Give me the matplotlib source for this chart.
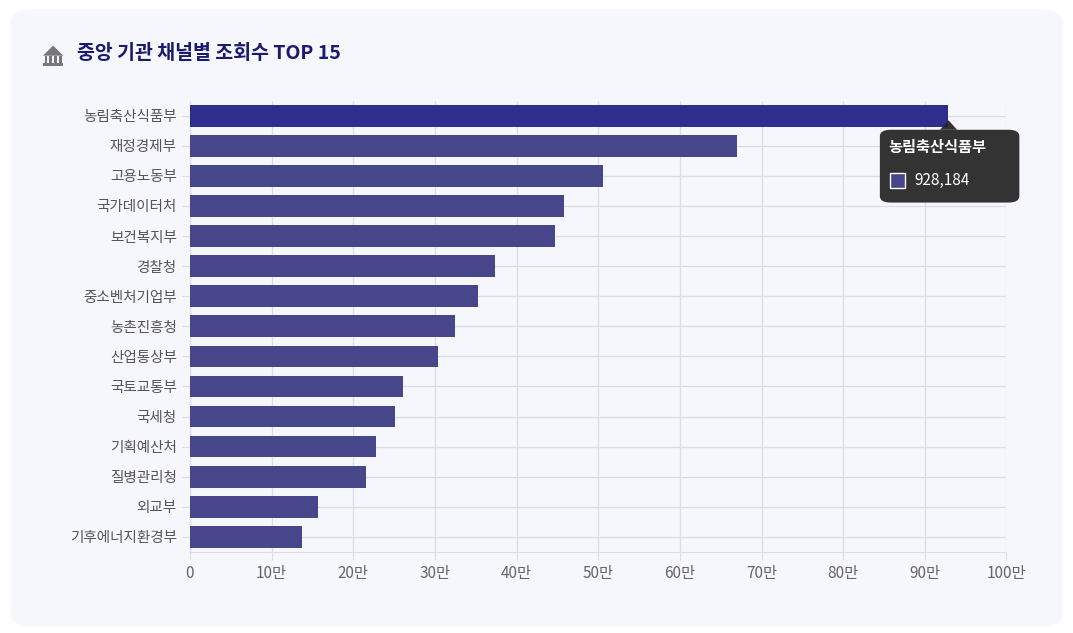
import matplotlib
matplotlib.use("Agg")
from matplotlib import pyplot as plt
from matplotlib.patches import FancyBboxPatch, Rectangle, Polygon
from matplotlib.ticker import FuncFormatter

plt.rcParams['font.family'] = ['Noto Sans CJK KR', 'DejaVu Sans']

agencies = ['농림축산식품부', '재정경제부', '고용노동부', '국가데이터처', '보건복지부', '경찰청',
            '중소벤처기업부', '농촌진흥청', '산업통상부', '국토교통부', '국세청', '기획예산처',
            '질병관리청', '외교부', '기후에너지환경부']
views = [928184, 670000, 506000, 458000, 447000, 374000, 353000, 325000, 304000,
         261000, 251000, 228000, 216000, 157000, 137000]

fig = plt.figure(figsize=(10.73, 6.33), dpi=100)
fig.patch.set_facecolor('white')
card = FancyBboxPatch((0.01, 0.01), 0.98, 0.975, boxstyle="round,pad=0,rounding_size=0.02",
                      transform=fig.transFigure, facecolor='#f6f6fd', edgecolor='none', zorder=-10)
fig.patches.append(card)

ax = fig.add_axes([0.177, 0.128, 0.761, 0.713])
ax.set_zorder(1)
ax.set_facecolor('#f6f6fd')
colors = ['#2e2e8c'] + ['#48468a'] * (len(views) - 1)
y = list(range(len(agencies)))
ax.barh(y, views, height=0.72, color=colors, zorder=3)
ax.set_ylim(len(agencies) - 0.5, -0.5)
ax.set_yticks(y)
ax.set_yticklabels(agencies, fontsize=10.5, color='#555555')
ax.set_xlim(0, 1000000)
ax.set_xticks(range(0, 1000001, 100000))
ax.xaxis.set_major_formatter(FuncFormatter(lambda v, p: '0' if v == 0 else f'{int(v/10000)}만'))
ax.tick_params(axis='x', labelsize=11, colors='#666666', length=6, color='#dddddd')
ax.tick_params(axis='y', length=6, color='#dddddd')
ax.grid(True, color='#dcdce4', linewidth=0.9, zorder=0)
for s in ax.spines.values():
    s.set_color('#dcdce4')
ax.spines['top'].set_visible(False)
ax.spines['right'].set_visible(False)

# building icon
icon_c = '#777777'
fig.patches.append(Polygon([(0.040, 0.912), (0.0495, 0.928), (0.059, 0.912)], closed=True,
                           transform=fig.transFigure, facecolor=icon_c, edgecolor='none', zorder=5))
for i in range(4):
    fig.patches.append(Rectangle((0.0415 + i * 0.0046, 0.9), 0.0022, 0.011,
                                 transform=fig.transFigure, facecolor=icon_c, zorder=5))
fig.patches.append(Rectangle((0.040, 0.896), 0.019, 0.004, transform=fig.transFigure,
                             facecolor=icon_c, zorder=5))
fig.text(0.072, 0.915, '중앙 기관 채널별 조회수 TOP 15', fontsize=14, fontweight='bold',
         color='#1a1a6e', va='center')

# tooltip
tip = FancyBboxPatch((0.82, 0.68), 0.13, 0.115, boxstyle="round,pad=0,rounding_size=0.01",
                     transform=fig.transFigure, facecolor='#222222', edgecolor='none',
                     alpha=0.92, zorder=10)
fig.patches.append(tip)
fig.patches.append(Polygon([(0.876, 0.795), (0.884, 0.81), (0.892, 0.795)], closed=True,
                           transform=fig.transFigure, facecolor='#222222', alpha=0.92, zorder=10))
fig.text(0.828, 0.768, agencies[0], fontsize=11, fontweight='bold', color='white', va='center', zorder=11)
fig.patches.append(FancyBboxPatch((0.829, 0.703), 0.014, 0.024, boxstyle="square,pad=0",
                                  transform=fig.transFigure, facecolor='#48468a',
                                  edgecolor='white', linewidth=1, zorder=11))
fig.text(0.852, 0.715, f'{views[0]:,}', fontsize=11, color='white', va='center', zorder=11)

fig.savefig('out.png', dpi=100, facecolor='white')
